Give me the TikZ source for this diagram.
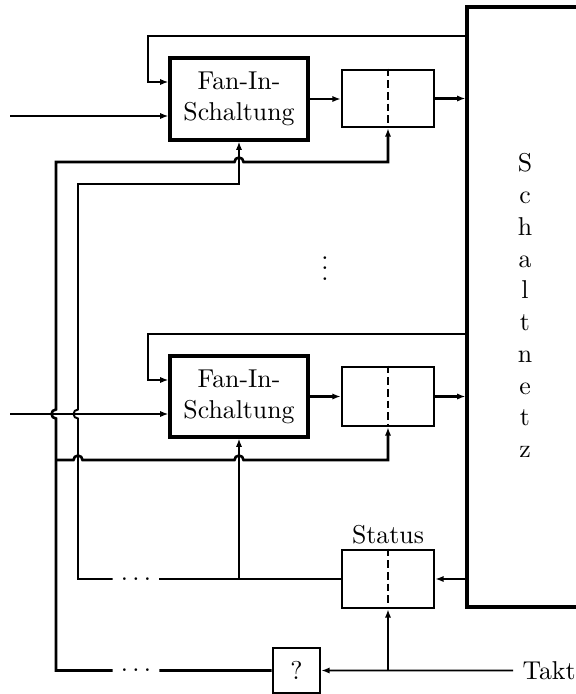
\documentclass[tikz,border=0pt]{standalone}
\usetikzlibrary{arrows.meta,fit}
\begin{document}
\begin{tikzpicture}[x=0.3875pt,y=0.3875pt,
 arr/.style={-{Latex[length=3.2pt,width=2.4pt]}},
 lw/.style={line width=1.2pt},
 lm/.style={line width=1.0pt},
 lt/.style={line width=0.75pt},
 fanbox/.style={draw,lw,inner sep=0pt},
 regbox/.style={draw,lm,inner sep=0pt},
 dashsep/.style={lm,dash pattern=on 3pt off 1.5pt},
 dotsnode/.style={inner xsep=3pt,inner ysep=1pt},
 ]
\useasboundingbox (0,0) rectangle (576,-694);
% boxes
\node[draw,lw,inner sep=0pt,fit={(467,-7)(650,-607)}] (snetz) {};
\node[align=center] (sname) at (525,-305.7) {S\\[0.3pt]c\\[0.3pt]h\\[0.3pt]a\\[0.3pt]l\\[0.3pt]t\\[0.3pt]n\\[0.3pt]e\\[0.3pt]t\\[0.3pt]z};
\node[fanbox,fit={(170,-58)(308,-140)}] (f1) {};
\node[align=center] (f1t) at (f1.center) {Fan-In-\\Schaltung};
\node[regbox,fit={(342,-70)(434,-127)}] (r1) {};
\draw[dashsep] (r1.north) -- (r1.south);
\node[fanbox,fit={(170,-356)(308,-437)}] (f2) {};
\node[align=center] (f2t) at (f2.center) {Fan-In-\\Schaltung};
\node[regbox,fit={(342,-367)(434,-426)}] (r2) {};
\draw[dashsep] (r2.north) -- (r2.south);
\node[regbox,fit={(342,-550)(434,-608)}] (st) {};
\node[anchor=south,inner sep=1.5pt] (stt) at (st.north) {Status};
\draw[dashsep] (st.north) -- (st.south);
\node[regbox,fit={(273,-648)(320,-693)}] (q) {};
\node (qt) at (q.center) {?};
\node[anchor=west,inner xsep=3.5pt] (takt) at (513,-670.5) {Takt};
\node[anchor=base] (vd) at (325,-280) {$\vdots$};
\node[dotsnode] (d1) at (136,-579) {$\ldots$};
\node[dotsnode] (d2) at (136,-670.5) {$\ldots$};
% coordinates
\coordinate (in1) at (10,-116);
\coordinate (in2) at (10,-414);
\coordinate (fb1) at (148,-36);
\coordinate (fb1e) at (170,-82);
\coordinate (fb2) at (148,-334);
\coordinate (fb2e) at (170,-380);
% upper stage
\draw[lm,arr] (snetz.west |- fb1) -- (fb1) |- (f1.west |- fb1e);
\draw[lm,arr] (in1) -- (f1.west |- in1);
\draw[lm,arr] (f1.east) -- (r1.west |- f1.east);
\draw[lm,arr] (r1.east) -- (snetz.west |- r1.east);
% lower stage
\draw[lt,arr] (snetz.west |- fb2) -- (fb2) |- (f2.west |- fb2e);
\draw[lt,arr] (in2) -- (f2.west |- in2);
\draw[lm,arr] (f2.east) -- (r2.west |- f2.east);
\draw[lm,arr] (r2.east) -- (snetz.west |- r2.east);
% left bus 1
\draw[lm,arr] (d2.west) -- (56,-670.5) -- (56,-418.5) arc[start angle=270,end angle=90,radius=4.5]
  -- (56,-162) -- (234.5,-162) arc[start angle=180,end angle=0,radius=4.5] -| (r1.south);
\draw[lm,arr] (56,-460) -- (73.5,-460) arc[start angle=180,end angle=0,radius=4.5]
  -- (234.5,-460) arc[start angle=180,end angle=0,radius=4.5] -| (r2.south);
\draw[lm] (d2.east) -- (q.west);
% left bus 2
\draw[lt,arr] (d1.west) -- (78,-579) -- (78,-418.5) arc[start angle=270,end angle=90,radius=4.5]
  -- (78,-184) -| (f1.south);
\draw[lm] (d1.east) -- (st.west);
\draw[lt,arr] (f2.south |- d1) -- (f2.south);
% status and clock
\draw[lm,arr] (snetz.west |- st.east) -- (st.east);
\draw[lt,arr] (takt.west) -- (q.east);
\draw[lt,arr] (st.south |- takt.west) -- (st.south);
\end{tikzpicture}
\end{document}
